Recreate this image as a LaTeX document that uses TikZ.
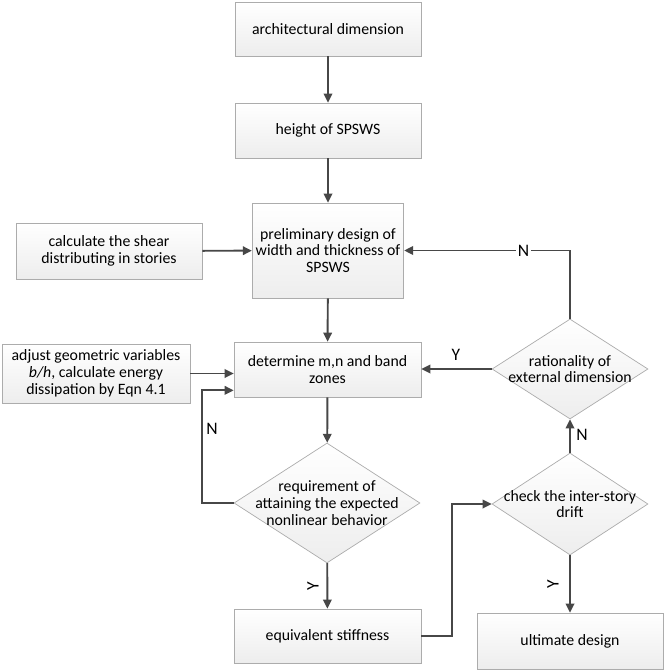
\documentclass[tikz,border=0pt]{standalone}
\usepackage{fontspec}
\setmainfont{Carlito}
\usetikzlibrary{arrows.meta,calc,positioning,shapes.geometric}

\begin{document}
\begin{tikzpicture}[
    x=0.02cm, y=-0.02cm,
    font=\fontsize{9}{9.6}\selectfont,
    box/.style={
        draw=gray!65,
        top color=white,
        bottom color=gray!14,
        align=center,
        inner sep=2pt
    },
    dia/.style={
        draw=gray!65,
        diamond,
        top color=white,
        bottom color=gray!14,
        inner sep=0pt
    },
    arr/.style={-{Triangle[length=1.8mm,width=1.7mm]}, line width=1.1pt, draw=black!72},
    lbl/.style={font=\fontsize{10}{10}\selectfont, inner sep=1pt}
]
    \useasboundingbox (0,0) rectangle (667,672);
    %% main column
    \node[box, minimum width=3.72cm, minimum height=1.08cm] (arch) at (328,29) {architectural dimension};
    \node[box, minimum width=3.72cm, minimum height=1.10cm] (height) at (328,130.5) {height of SPSWS};
    \node[box, minimum width=2.96cm, minimum height=1.90cm] (prelim) at (328,250.5) {preliminary design of\\width and thickness of\\SPSWS};
    \node[box, minimum width=3.74cm, minimum height=1.10cm] (determine) at (327.5,369.5) {determine m,n and band\\zones};
    \node[dia, minimum width=3.72cm, minimum height=2.40cm,
        label={[align=center]center:{requirement of\\attaining the expected\\nonlinear behavior}}] (req) at (327,503) {};
    \node[box, minimum width=3.74cm, minimum height=1.08cm] (equiv) at (327.5,636) {equivalent stiffness};
    %% left inputs
    \node[box, minimum width=3.72cm, minimum height=1.12cm] (shear) at (109,251) {calculate the shear\\distributing in stories};
    \node[box, minimum width=3.76cm, minimum height=1.18cm] (adjust) at (96,373.5) {adjust geometric variables\\\textit{b/h}, calculate energy\\dissipation by Eqn 4.1};
    %% right column
    \node[dia, minimum width=3.12cm, minimum height=2.00cm,
        label={[align=center]center:{rationality of\\external dimension}}] (ratio) at (570,369) {};
    \node[dia, minimum width=3.12cm, minimum height=2.04cm,
        label={[align=center]center:{check the inter-story\\drift}}] (check) at (570,504) {};
    \node[box, minimum width=3.72cm, minimum height=1.12cm] (ultimate) at (570,641) {ultimate design};

    %% arrows
    \draw[arr] (arch) -- (height);
    \draw[arr] (height) -- (prelim);
    \draw[arr] (shear) -- (prelim);
    \draw[arr] (prelim) -- (determine);
    \draw[arr] (adjust.east) -- (adjust.east -| determine.west);
    \draw[arr] (determine) -- (req);
    \draw[arr] (req.west) -- ++(-32,0) |- ($(determine.south west)+(0,-7)$);
    \node[lbl] (n1) at (212,429) {N};
    \draw[arr] (req) -- (equiv);
    \node[lbl, rotate=90] (y1) at (313,586) {Y};
    \draw[arr] (equiv.east) -- ++(31,0) |- (check.west);
    \draw[arr] (check) -- (ultimate);
    \node[lbl, rotate=90] (y2) at (553,584) {Y};
    \draw[arr] (check) -- (ratio);
    \node[lbl] (n2) at (582,435) {N};
    \draw[arr] (ratio.west) -- (ratio.west -| determine.east);
    \node[lbl] (y3) at (456,355) {Y};
    \draw[arr] (ratio.north) |- (prelim.east)
        node[lbl, pos=0.64, fill=white] (n3) {N};
\end{tikzpicture}
\end{document}
